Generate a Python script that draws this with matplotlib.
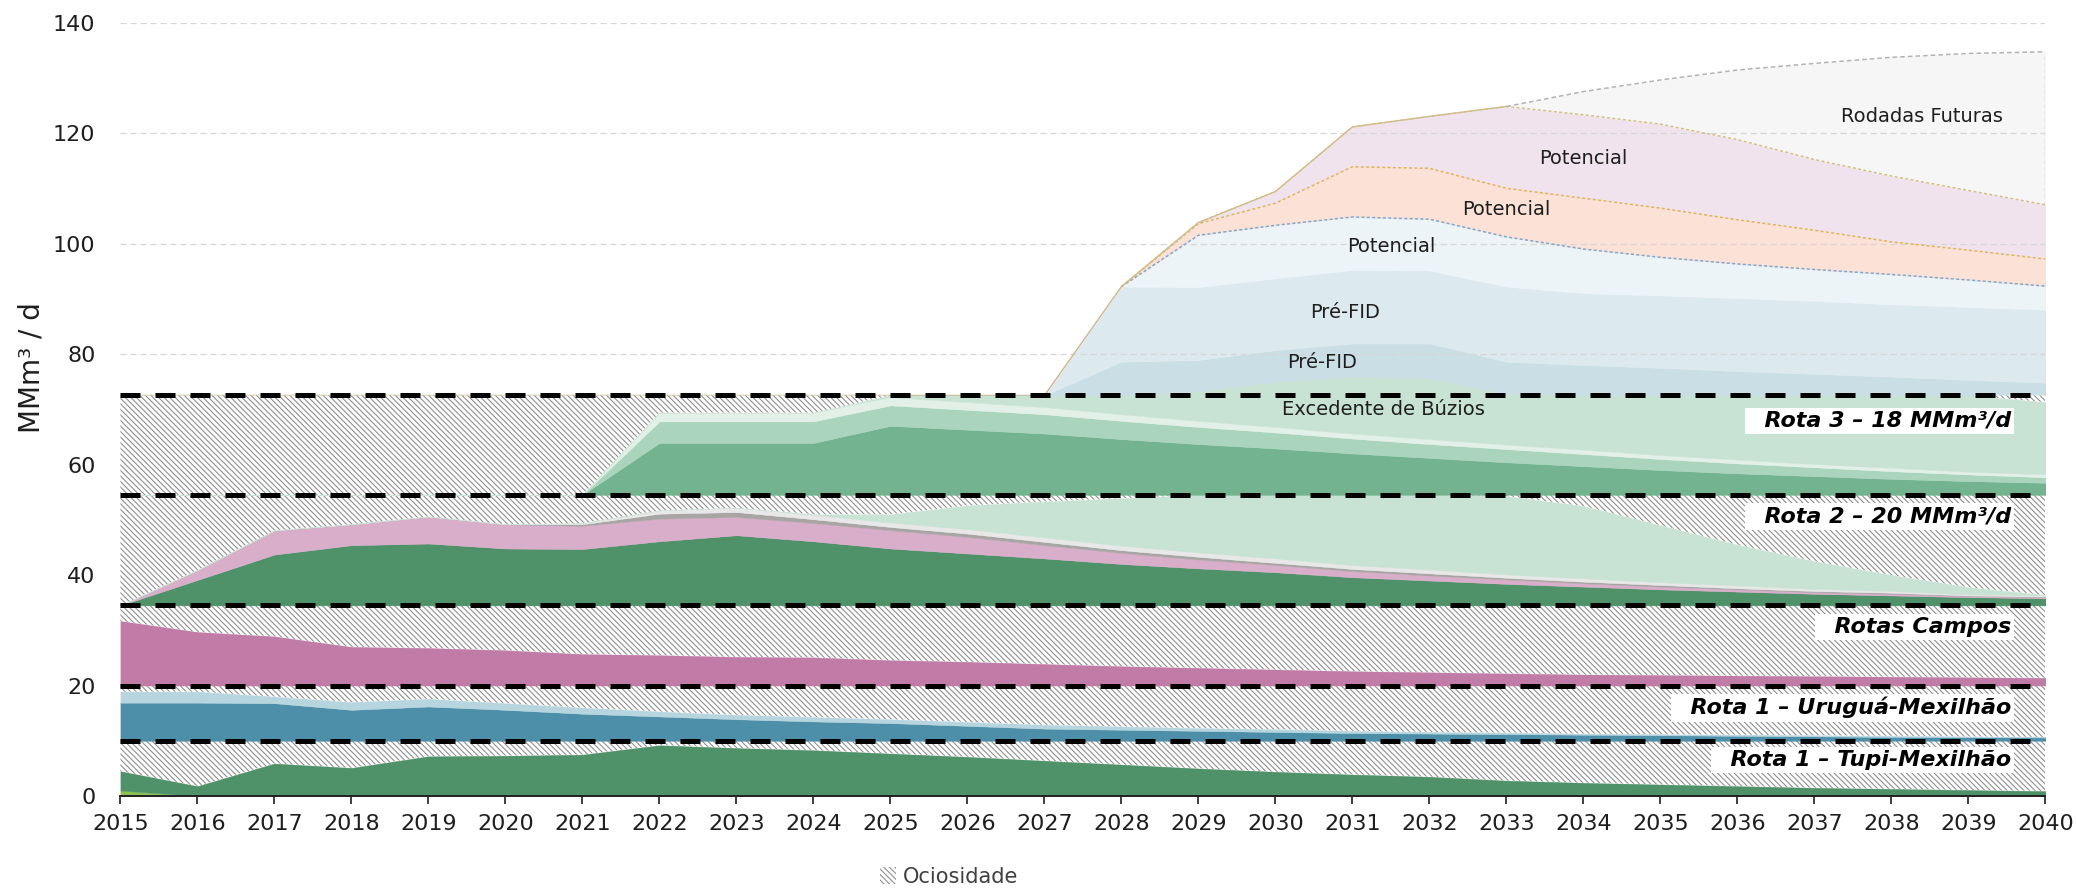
import numpy as np
import matplotlib
matplotlib.use("Agg")
import matplotlib.pyplot as plt
from matplotlib.patches import Patch

# ---- data (MMm3/d) ---------------------------------------------------------
years = list(range(2015, 2041))

route_labels = ["Rota 1 – Tupi-Mexilhão", "Rota 1 – Uruguá-Mexilhão", "Rotas Campos",
                "Rota 2 – 20 MMm³/d", "Rota 3 – 18 MMm³/d"]
route_caps = [10, 10, 14.5, 20, 18]
route_label_y = [6.5, 16.0, 30.6, 50.6, 67.9]

# stacked layer tops, per route
tupi_yellow_top = [1.0, 0, 0, 0, 0, 0, 0, 0, 0, 0, 0, 0, 0, 0, 0, 0, 0, 0, 0, 0, 0, 0, 0, 0, 0, 0]
tupi_green_top = [4.5, 1.8, 5.9, 5.1, 7.2, 7.3, 7.5, 9.2, 8.7, 8.3, 7.7, 7.1, 6.4,
                  5.7, 5.0, 4.4, 3.9, 3.5, 2.8, 2.4, 2.1, 1.8, 1.5, 1.3, 1.1, 0.9]

urugua_teal_top = [16.9, 16.9, 16.8, 15.6, 16.2, 15.6, 14.9, 14.4, 13.9, 13.5, 13.2, 12.7, 12.2,
                   12.0, 11.8, 11.6, 11.4, 11.3, 11.2, 11.1, 11.0, 10.9, 10.8, 10.7, 10.65, 10.6]
urugua_lblue_top = [18.9, 18.9, 18.0, 17.0, 17.6, 16.8, 16.0, 15.3, 14.7, 14.3, 13.9, 13.4, 12.9,
                    12.6, 12.3, 12.1, 11.8, 11.6, 11.5, 11.3, 11.2, 11.1, 11.0, 10.9, 10.8, 10.7]

campos_mauve_top = [31.7, 29.7, 28.9, 27.0, 26.8, 26.4, 25.7, 25.5, 25.2, 25.1, 24.6, 24.3, 23.9,
                    23.5, 23.2, 22.9, 22.6, 22.4, 22.2, 22.0, 21.9, 21.8, 21.7, 21.6, 21.5, 21.4]

r2_green_top = [34.5, 39.1, 43.7, 45.4, 45.7, 44.8, 44.7, 46.1, 47.2, 46.1, 44.8, 43.9, 43.0,
                42.0, 41.2, 40.5, 39.6, 39.0, 38.4, 37.9, 37.4, 37.0, 36.6, 36.3, 36.0, 35.8]
r2_pink_top = [34.5, 40.9, 48.1, 49.2, 50.6, 49.2, 48.9, 50.2, 50.5, 49.4, 48.1, 46.9, 45.4,
               44.0, 42.8, 41.8, 40.7, 39.9, 39.2, 38.5, 37.9, 37.4, 36.9, 36.6, 36.2, 36.0]
r2_gray_top = [34.5, 40.9, 48.1, 49.2, 50.6, 49.2, 49.2, 51.1, 51.4, 50.1, 48.7, 47.5, 46.0,
               44.5, 43.3, 42.2, 41.1, 40.3, 39.5, 38.8, 38.2, 37.6, 37.1, 36.8, 36.3, 36.1]
r2_lgray_top = [34.5, 40.9, 48.1, 49.2, 50.6, 49.2, 49.4, 51.7, 52.2, 50.9, 49.5, 48.3, 46.8,
                45.3, 44.1, 43.0, 41.8, 41.0, 40.1, 39.4, 38.7, 38.1, 37.5, 37.1, 36.5, 36.3]
r2_buzios_top = [34.5, 40.9, 48.1, 49.2, 50.6, 49.2, 49.4, 51.7, 52.2, 51.0, 51.0, 52.6, 53.3,
                 53.9, 54.5, 54.5, 54.5, 54.5, 54.3, 52.5, 49.0, 45.5, 42.5, 40.0, 37.8, 36.4]

r3_green_top = [54.5, 54.5, 54.5, 54.5, 54.5, 54.5, 54.5, 63.9, 63.9, 63.9, 67.0, 66.3, 65.6,
                64.6, 63.7, 62.9, 62.0, 61.2, 60.4, 59.7, 59.0, 58.4, 57.9, 57.4, 57.0, 56.7]
r3_lgreen_top = [54.5, 54.5, 54.5, 54.5, 54.5, 54.5, 54.5, 67.8, 67.8, 67.8, 70.7, 69.9, 69.1,
                 67.9, 66.8, 65.8, 64.7, 63.7, 62.8, 61.9, 61.0, 60.2, 59.5, 58.8, 58.2, 57.7]
r3_vlight_top = [54.5, 54.5, 54.5, 54.5, 54.5, 54.5, 54.5, 69.4, 69.4, 69.4, 72.2, 71.3, 70.4,
                 69.1, 67.9, 66.8, 65.6, 64.6, 63.6, 62.7, 61.7, 60.9, 60.1, 59.4, 58.7, 58.2]
r3_buzios_top = [54.5, 54.5, 54.5, 54.5, 54.5, 54.5, 54.5, 69.4, 69.4, 69.4, 72.5, 72.5, 72.5,
                 72.5, 72.5, 72.5, 72.5, 72.5, 72.5, 72.5, 72.5, 72.5, 72.5, 72.5, 72.5, 71.3]

# above the installed capacity
excess_buzios_top = [72.5] * 14 + [73.3, 75.0, 75.9, 75.6, 72.8] + [72.5] * 7
prefid1_top = [72.5] * 13 + [78.6, 78.9, 80.7, 81.9, 81.9, 78.6, 78.0, 77.5, 76.9, 76.4, 75.9, 75.3, 74.8]
prefid2_top = [72.5] * 13 + [92.2, 92.1, 93.7, 95.2, 95.1, 92.2, 91.0, 90.6, 90.1, 89.6, 89.0, 88.5, 88.0]
pot1_top = [72.5] * 13 + [92.2, 101.5, 103.3, 104.8, 104.4, 101.2, 99.0, 97.5, 96.3, 95.3, 94.4, 93.4, 92.3]
pot2_top = [72.5] * 13 + [92.2, 103.6, 107.3, 113.9, 113.6, 110.0, 108.2, 106.4, 104.3, 102.4, 100.3, 98.8, 97.2]
pot3_top = [72.5] * 13 + [92.2, 103.8, 109.4, 121.1, 123.0, 124.8, 123.3, 121.6, 118.8, 115.2, 112.2, 109.6, 107.0]
rodadas_top = [72.5] * 13 + [92.2, 103.8, 109.4, 121.1, 123.0, 124.8, 127.5, 129.6, 131.4, 132.6, 133.7, 134.4, 134.7]

area_labels = [("Rodadas Futuras", 2038.4, 123.0), ("Potencial", 2034.0, 115.3),
               ("Potencial", 2033.0, 106.2), ("Potencial", 2031.5, 99.5),
               ("Pré-FID", 2030.9, 87.5), ("Pré-FID", 2030.6, 78.4),
               ("Excedente de Búzios", 2031.4, 70.0)]

# ---- colours ---------------------------------------------------------------
_DKGREEN, _YGREEN, _TEAL, _LBLUE = "#4f9169", "#8cc152", "#4d8ea8", "#b6d5de"
_MAUVE, _PINK, _GRAY, _LGRAY = "#c07ba7", "#d9aecb", "#aaa5a5", "#e8e8e8"
_BUZIOS, _MDGREEN, _LGREEN, _VLGREEN = "#c8e2d3", "#74b38f", "#aad4bc", "#e3f0e8"
_PF1, _PF2, _POT1, _POT2, _POT3, _ROD = "#cadee6", "#dce9ef", "#ecf4f7", "#fbe1d6", "#f1e3ee", "#f6f6f6"
_HATCH, _TXT = "#8f8f8f", "#1e1e1e"
_HATCH_PAT = "\\" * 6

plt.rcParams["hatch.linewidth"] = 0.8
plt.rcParams["font.family"] = ["DejaVu Sans"]

fig = plt.figure(figsize=(20.76, 8.93), dpi=100)
ax = fig.add_axes([0.058, 0.1086, 0.9273, 0.8662])

route_layers = [
    [(tupi_yellow_top, _YGREEN), (tupi_green_top, _DKGREEN)],
    [(urugua_teal_top, _TEAL), (urugua_lblue_top, _LBLUE)],
    [(campos_mauve_top, _MAUVE)],
    [(r2_green_top, _DKGREEN), (r2_pink_top, _PINK), (r2_gray_top, _GRAY),
     (r2_lgray_top, _LGRAY), (r2_buzios_top, _BUZIOS)],
    [(r3_green_top, _MDGREEN), (r3_lgreen_top, _LGREEN), (r3_vlight_top, _VLGREEN),
     (r3_buzios_top, _BUZIOS)],
]

cap_tops = np.cumsum(route_caps)
cap_bases = np.concatenate([[0], cap_tops[:-1]])
x = np.array(years)

for base, top, layers in zip(cap_bases, cap_tops, route_layers):
    prev = np.full(len(x), base, dtype=float)
    for vals, color in layers:
        v = np.array(vals, dtype=float)
        ax.fill_between(x, prev, v, facecolor=color, edgecolor=color, linewidth=0.3, zorder=3)
        prev = v
    # idle capacity
    ax.fill_between(x, prev, top, facecolor="white", edgecolor=_HATCH, linewidth=0,
                    hatch=_HATCH_PAT, zorder=3)

upper_layers = [(excess_buzios_top, _BUZIOS), (prefid1_top, _PF1), (prefid2_top, _PF2),
                (pot1_top, _POT1), (pot2_top, _POT2), (pot3_top, _POT3), (rodadas_top, _ROD)]
prev = np.full(len(x), cap_tops[-1], dtype=float)
for vals, color in upper_layers:
    v = np.array(vals, dtype=float)
    ax.fill_between(x, prev, v, facecolor=color, edgecolor=color, linewidth=0.3, zorder=1)
    prev = v

# dotted borders of the upper areas
def _edge(top, below, color, ls):
    top, below = np.array(top), np.array(below)
    m = (top - below) > 0
    m = m | np.r_[m[1:], False] | np.r_[False, m[:-1]]
    ax.plot(x[m], top[m], color=color, linestyle=ls, linewidth=1.1, zorder=2)

ax.plot(x[:19], np.array(pot3_top)[:19], color="#cbb78e", linewidth=1.0, zorder=2)
_edge(pot1_top, prefid2_top, "#7ea9cf", (0, (2, 1.5)))
_edge(pot2_top, pot1_top, "#e2b655", (0, (2, 1.5)))
_edge(pot3_top, pot2_top, "#d6c089", (0, (2, 1.5)))
_edge(rodadas_top, pot3_top, "#b3b3b3", (0, (3, 2)))
ax.plot([x[-1], x[-1]], [pot3_top[-1], rodadas_top[-1]], color="#b3b3b3",
        linestyle=(0, (3, 2)), linewidth=1.0, zorder=2)

# grid
for yv in range(20, 141, 20):
    ax.axhline(yv, color="#d6d6d6", linestyle=(0, (5, 3)), linewidth=0.9, zorder=1.5)

# capacity lines
for c in cap_tops:
    ax.plot([x[0], x[-1]], [c, c], color="black", linewidth=3.6,
            linestyle=(0, (4, 3)), zorder=5)

for name, yv in zip(route_labels, route_label_y):
    ax.text(2039.55, yv, "  " + name, ha="right", va="center", fontsize=16,
            fontweight="bold", fontstyle="italic", color="black", zorder=6,
            bbox=dict(boxstyle="square,pad=0.15", facecolor="white", edgecolor="none"))

for txt, xv, yv in area_labels:
    ax.text(xv, yv, txt, ha="center", va="center", fontsize=14, color=_TXT, zorder=6)

ax.set_xlim(2015, 2040)
ax.set_ylim(0, 140)
ax.set_xticks(years)
ax.set_yticks(range(0, 141, 20))
ax.tick_params(axis="x", length=6, width=1.2, pad=7, labelsize=16, colors=_TXT)
ax.tick_params(axis="y", length=0, pad=18, labelsize=16, colors=_TXT)
for s in ("left", "right", "top"):
    ax.spines[s].set_visible(False)
ax.spines["bottom"].set_linewidth(1.4)
ax.spines["bottom"].set_color("#222222")
ax.spines["bottom"].set_zorder(7)

fig.text(0.015, 0.588, "MMm³ / d", rotation=90, ha="center", va="center",
         fontsize=20, color=_TXT)

hatch_patch = Patch(facecolor="white", edgecolor=_HATCH, linewidth=0,
                    hatch=_HATCH_PAT, label="Ociosidade")
fig.legend(handles=[hatch_patch], loc="center", bbox_to_anchor=(0.457, 0.018),
           frameon=False, fontsize=15, handlelength=0.8, handleheight=0.9,
           handletextpad=0.3, labelcolor="#404040")

fig.savefig("out.png", dpi=100)
plt.close(fig)
